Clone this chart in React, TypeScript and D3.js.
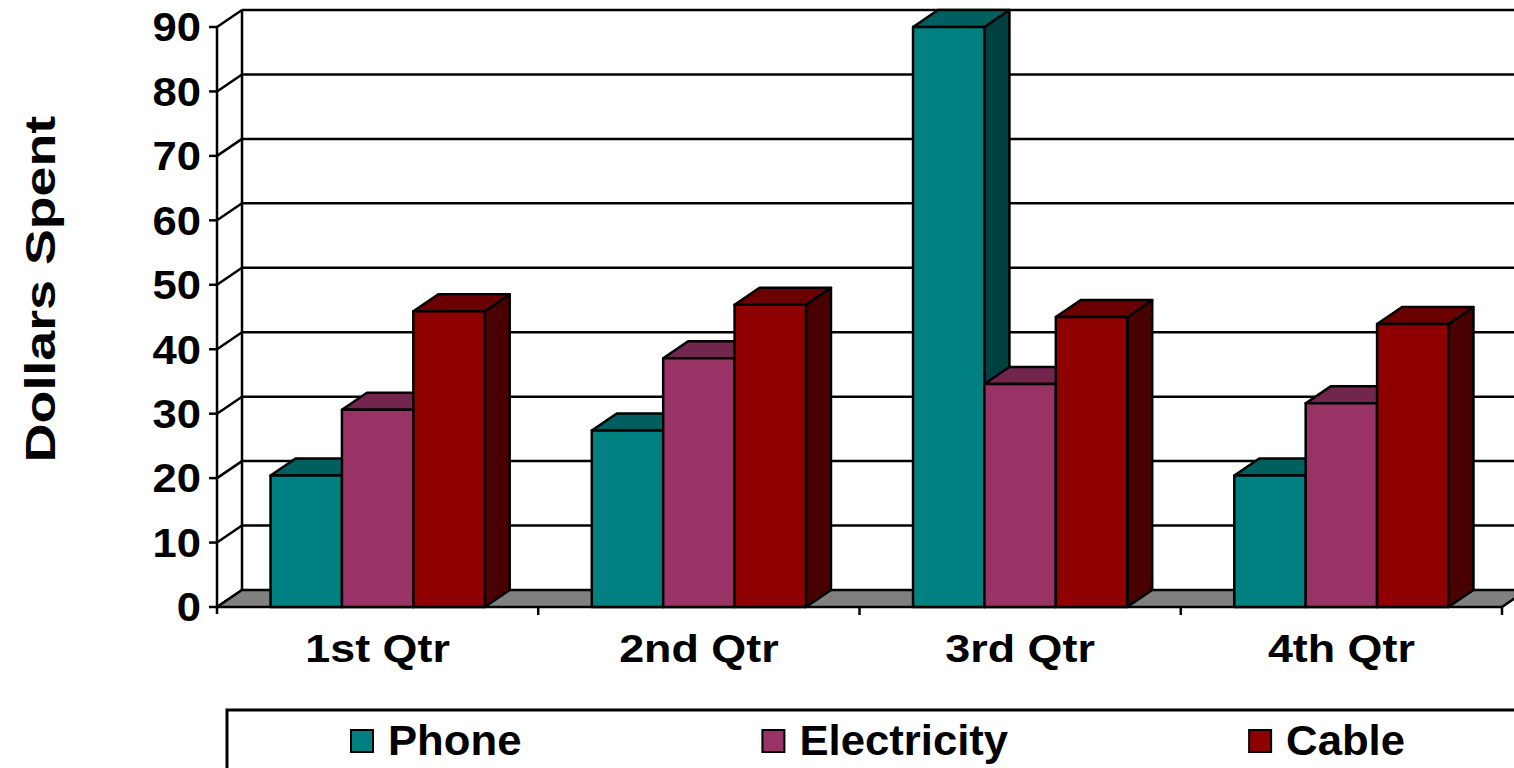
import React, { useEffect, useRef } from "react";
import * as d3 from "d3";

const categories = ["1st Qtr", "2nd Qtr", "3rd Qtr", "4th Qtr"];
const seriesNames = ["Phone", "Electricity", "Cable"];
const phone = [20.4, 27.4, 90, 20.4];
const electricity = [30.6, 38.6, 34.6, 31.6];
const cable = [45.9, 46.9, 45, 43.9];
const yTicks = [0, 10, 20, 30, 40, 50, 60, 70, 80, 90];
const yTitle = "Dollars Spent";

const seriesValues = [phone, electricity, cable];
const frontColors = ["#008080", "#993366", "#8f0000"];
const topColors = ["#006060", "#73264d", "#6b0000"];
const sideColors = ["#004040", "#4d1a33", "#480000"];

const W = 1514, H = 768;
const FONT = "'Liberation Sans', Arial, sans-serif";

export default function App() {
  const ref = useRef<SVGSVGElement>(null);
  useEffect(() => {
    const svg = d3.select(ref.current);
    svg.selectAll("*").remove();

    const x0 = 217, x1 = 1502;
    const dx = 25, dy = -17;
    const y = d3.scaleLinear().domain([0, 90]).range([607, 27]);
    const xc = d3.scaleBand().domain(categories).range([x0, x1]).paddingInner(0).paddingOuter(0);
    const bw = xc.bandwidth() / 4.5;
    const xs = d3.scaleBand().domain(seriesNames).range([0, bw * 3]);
    const lw = 2.5;
    const line = (x1_: number, y1_: number, x2_: number, y2_: number) =>
      svg.append("line").attr("x1", x1_).attr("y1", y1_).attr("x2", x2_).attr("y2", y2_)
        .attr("stroke", "#000").attr("stroke-width", lw);
    const poly = (pts: [number, number][], fill: string) =>
      svg.append("path").attr("d", d3.line()(pts) + "Z").attr("fill", fill)
        .attr("stroke", "#000").attr("stroke-width", lw).attr("stroke-linejoin", "round");

    // back wall gridlines & side wall
    yTicks.forEach(t => {
      if (t > 0) line(x0 + dx, y(t) + dy, x1 + dx + 40, y(t) + dy);
      line(x0, y(t), x0 + dx, y(t) + dy);
      line(x0 - 8, y(t), x0, y(t));
    });
    line(x0 + dx, y(90) + dy, x0 + dx, y(0) + dy);
    line(x0, y(90), x0, y(0) + 7);

    // floor
    poly([[x0, y(0)], [x1, y(0)], [x1 + dx, y(0) + dy], [x0 + dx, y(0) + dy]], "#808080");
    categories.forEach((c) => {
      line(xc(c)! + xc.bandwidth(), y(0), xc(c)! + xc.bandwidth(), y(0) + 8);
    });

    // bars
    categories.forEach((c, ci) => {
      const start = xc(c)! + bw * 0.75;
      seriesNames.forEach((s, si) => {
        const v = seriesValues[si][ci];
        const bx = start + xs(s)!;
        const yt = y(v), yb = y(0);
        poly([[bx + bw, yt], [bx + bw + dx, yt + dy], [bx + bw + dx, yb + dy], [bx + bw, yb]], sideColors[si]);
        poly([[bx, yt], [bx + bw, yt], [bx + bw + dx, yt + dy], [bx + dx, yt + dy]], topColors[si]);
        poly([[bx, yt], [bx + bw, yt], [bx + bw, yb], [bx, yb]], frontColors[si]);
      });
    });

    // y tick labels
    const tfs = 40;
    yTicks.forEach(t => {
      svg.append("text").attr("transform", `translate(201,${y(t) + tfs * 0.716 / 2}) scale(1.09,1)`)
        .attr("text-anchor", "end").attr("font-family", FONT).attr("font-weight", "bold")
        .attr("font-size", tfs).attr("fill", "#000").text(t);
    });

    // category labels
    categories.forEach(c => {
      svg.append("text").attr("transform", `translate(${xc(c)! + xc.bandwidth() / 2},662) scale(1.15,1)`)
        .attr("text-anchor", "middle").attr("font-family", FONT).attr("font-weight", "bold")
        .attr("font-size", 39).attr("fill", "#000").text(c);
    });

    // axis title
    svg.append("text").attr("transform", `translate(55,289) rotate(-90) scale(1.28,1)`)
      .attr("text-anchor", "middle").attr("font-family", FONT).attr("font-weight", "bold")
      .attr("font-size", 42).attr("fill", "#000").text(yTitle);

    // legend
    svg.append("rect").attr("x", 227).attr("y", 710).attr("width", 1400).attr("height", 120)
      .attr("fill", "#fff").attr("stroke", "#000").attr("stroke-width", 3);
    let lx = 350;
    const lfs = 42, lsx = 1.04;
    seriesNames.forEach((s, si) => {
      svg.append("rect").attr("x", lx + 1).attr("y", 730).attr("width", 22).attr("height", 22)
        .attr("fill", frontColors[si]).attr("stroke", "#000").attr("stroke-width", 2);
      const t = svg.append("text").attr("transform", `translate(${lx + 38},755) scale(${lsx},1)`)
        .attr("font-family", FONT).attr("font-weight", "bold")
        .attr("font-size", lfs).attr("fill", "#000").text(s);
      const tw = (t.node() as SVGTextElement).getComputedTextLength() * lsx;
      lx = lx + 38 + tw + 240;
    });
  }, []);
  return <svg ref={ref} width={W} height={H} style={{ display: "block", position: "absolute", left: 0, top: 0 }} />;
}
